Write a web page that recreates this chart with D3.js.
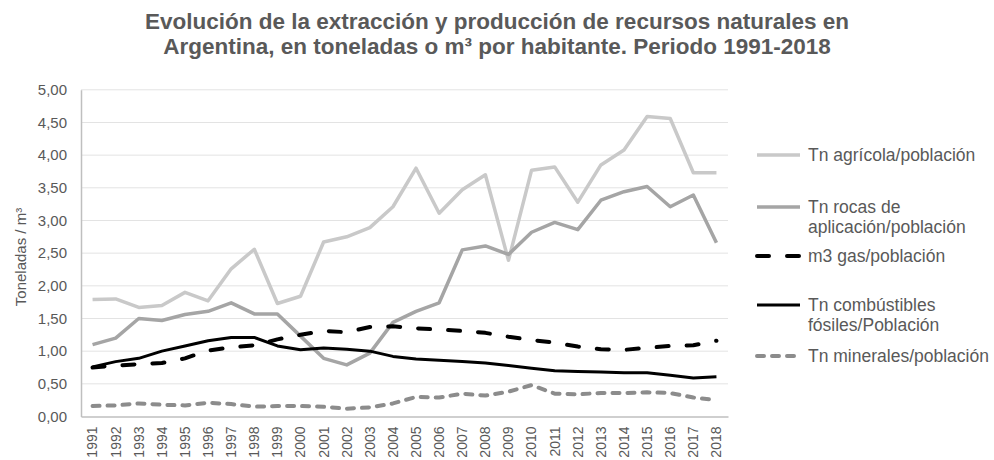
<!DOCTYPE html>
<html lang="es">
<head>
<meta charset="utf-8">
<title>Recursos naturales Argentina</title>
<script src="https://cdnjs.cloudflare.com/ajax/libs/d3/7.8.5/d3.min.js"></script>
<style>
  body { margin: 0; background: #fff; }
  text { font-family: Arial, "Liberation Sans", sans-serif; fill: #595959; }
</style>
</head>
<body>
<script>
// data
var years = d3.range(1991, 2019).map(String);
var agricola = [1.79,1.80,1.67,1.70,1.90,1.77,2.26,2.56,1.73,1.84,2.67,2.75,2.89,3.21,3.80,3.11,3.47,3.70,2.39,3.77,3.82,3.28,3.85,4.08,4.59,4.56,3.73,3.73];
var rocas = [1.10,1.20,1.50,1.47,1.56,1.61,1.74,1.57,1.57,1.23,0.89,0.79,0.97,1.44,1.61,1.74,2.55,2.61,2.48,2.82,2.97,2.86,3.31,3.44,3.52,3.21,3.39,2.66];
var gas = [0.75,0.78,0.80,0.82,0.89,1.01,1.06,1.09,1.18,1.25,1.31,1.29,1.37,1.38,1.35,1.33,1.31,1.28,1.22,1.17,1.13,1.07,1.03,1.02,1.05,1.08,1.09,1.16];
var combustibles = [0.76,0.84,0.89,1.00,1.08,1.16,1.21,1.21,1.08,1.02,1.05,1.03,1.00,0.92,0.88,0.86,0.84,0.82,0.78,0.74,0.70,0.69,0.68,0.67,0.67,0.63,0.59,0.61];
var minerales = [0.16,0.17,0.20,0.18,0.17,0.21,0.19,0.15,0.16,0.16,0.15,0.12,0.14,0.20,0.30,0.29,0.35,0.32,0.38,0.48,0.35,0.34,0.36,0.36,0.37,0.36,0.29,0.25];
var yTicks = [0, 0.5, 1, 1.5, 2, 2.5, 3, 3.5, 4, 4.5, 5];

var series = [
  { name: ["Tn agrícola/población"], values: agricola, color: "#c9c9c9", width: 3.5, dash: null, ly: 155 },
  { name: ["Tn rocas de", "aplicación/población"], values: rocas, color: "#a5a5a5", width: 3.5, dash: null, ly: 207 },
  { name: ["m3 gas/población"], values: gas, color: "#000000", width: 4, dash: "12,18", ly: 256 },
  { name: ["Tn combústibles", "fósiles/Población"], values: combustibles, color: "#000000", width: 3, dash: null, ly: 305 },
  { name: ["Tn minerales/población"], values: minerales, color: "#8c8c8c", width: 4, dash: "7,8", ly: 356 }
];

var w = 994, h = 460;
var plotLeft = 81, plotRight = 728, plotTop = 89.8, plotBottom = 416.5;

var svg = d3.select("body").append("svg")
  .attr("width", w)
  .attr("height", h);

var x = d3.scaleBand().domain(years).range([plotLeft, plotRight]);
var y = d3.scaleLinear().domain([0, 5]).range([plotBottom, plotTop]);

// title
var title = svg.append("text")
  .attr("text-anchor", "middle")
  .style("font-size", "22.5px")
  .style("font-weight", "bold");
title.append("tspan").attr("x", 497).attr("y", 29)
  .text("Evolución de la extracción y producción de recursos naturales en");
title.append("tspan").attr("x", 497).attr("y", 54)
  .text("Argentina, en toneladas o m³ por habitante. Periodo 1991-2018");

// gridlines
svg.append("g").selectAll("line")
  .data(yTicks.filter(function(d) { return d > 0; }))
  .enter().append("line")
  .attr("x1", plotLeft).attr("x2", plotRight)
  .attr("y1", function(d) { return y(d); })
  .attr("y2", function(d) { return y(d); })
  .attr("stroke", "#e3e3e3")
  .attr("stroke-width", 1);

// y axis
var yAxis = d3.axisLeft(y)
  .tickValues(yTicks)
  .tickSize(0)
  .tickPadding(14)
  .tickFormat(function(d) { return d3.format(".2f")(d).replace(".", ","); });
var gy = svg.append("g")
  .attr("transform", "translate(" + plotLeft + ",0)")
  .call(yAxis);
gy.select(".domain").attr("stroke", "#bfbfbf").attr("stroke-width", 1.5);
gy.selectAll("text").style("font-size", "15px").style("fill", "#595959");

// x axis
var xAxis = d3.axisBottom(x).tickSize(0).tickPadding(0);
var gx = svg.append("g")
  .attr("transform", "translate(0," + plotBottom + ")")
  .call(xAxis);
gx.select(".domain").attr("stroke", "#bfbfbf").attr("stroke-width", 1.5);
gx.selectAll("text")
  .style("font-size", "14px")
  .style("fill", "#595959")
  .attr("text-anchor", "end")
  .attr("transform", "rotate(-90)")
  .attr("x", -10)
  .attr("y", 0)
  .attr("dy", "0.35em");

// y axis title
svg.append("text")
  .attr("transform", "translate(26,257) rotate(-90)")
  .attr("text-anchor", "middle")
  .style("font-size", "15px")
  .text("Toneladas / m³");

// lines
var line = d3.line()
  .x(function(d, i) { return x(years[i]) + x.bandwidth() / 2; })
  .y(function(d) { return y(d); });

svg.append("g").selectAll("path")
  .data(series)
  .enter().append("path")
  .attr("d", function(d) { return line(d.values); })
  .attr("fill", "none")
  .attr("stroke", function(d) { return d.color; })
  .attr("stroke-width", function(d) { return d.width; })
  .attr("stroke-dasharray", function(d) { return d.dash; })
  .attr("stroke-linecap", function(d) { return d.dash ? "round" : "butt"; })
  .attr("stroke-linejoin", "round");

// legend
var legend = svg.append("g").selectAll("g")
  .data(series)
  .enter().append("g");

legend.append("line")
  .attr("x1", 757).attr("x2", 800)
  .attr("y1", function(d) { return d.ly; })
  .attr("y2", function(d) { return d.ly; })
  .attr("stroke", function(d) { return d.color; })
  .attr("stroke-width", function(d) { return d.width; })
  .attr("stroke-dasharray", function(d) { return d.dash; })
  .attr("stroke-linecap", function(d) { return d.dash ? "round" : "butt"; });

legend.append("text")
  .style("font-size", "17.5px")
  .attr("y", function(d) { return d.ly; })
  .selectAll("tspan")
  .data(function(d) { return d.name; })
  .enter().append("tspan")
  .attr("x", 808)
  .attr("dy", function(d, i) { return i === 0 ? "0.35em" : "1.15em"; })
  .text(function(d) { return d; });
</script>
</body>
</html>
